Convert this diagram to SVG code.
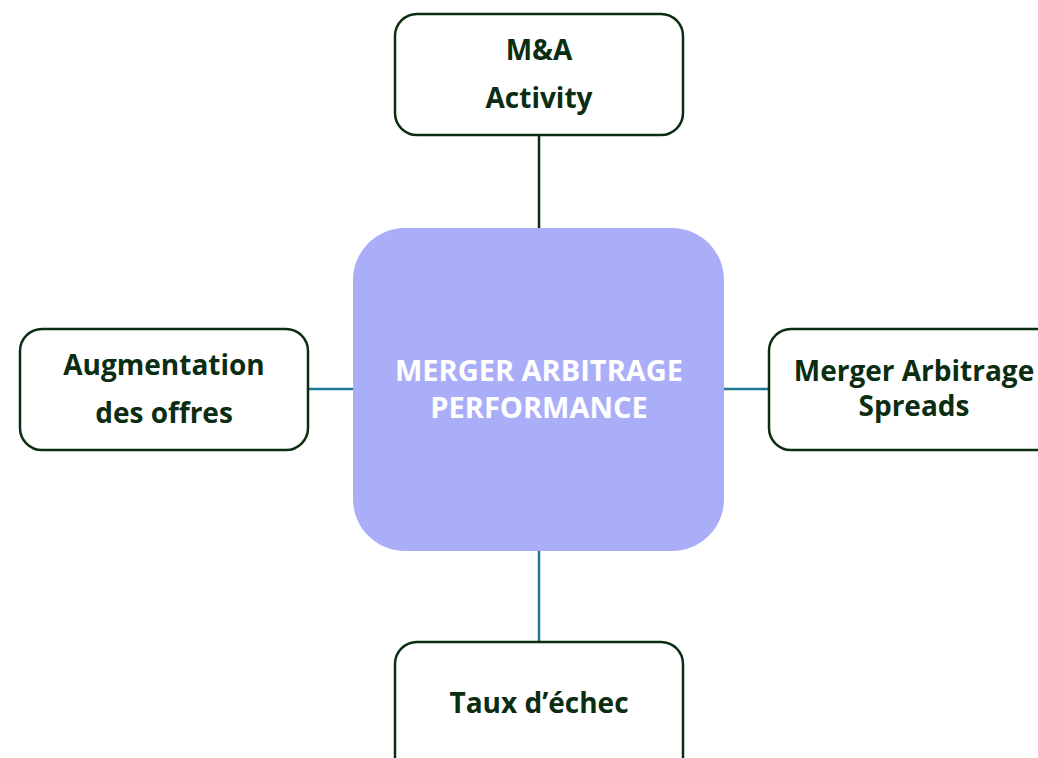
<svg xmlns="http://www.w3.org/2000/svg" width="1038" height="758" viewBox="0 0 1038 758">
<style>
.box{fill:#ffffff;stroke:#0b2d12;stroke-width:2.5}
.lbl{font-family:"Open Sans","Noto Sans",sans-serif;font-weight:700;font-size:28px;fill:#0b2d12;text-anchor:middle}
.clbl{font-family:"Open Sans","Noto Sans",sans-serif;font-weight:700;font-size:29px;fill:#ffffff;text-anchor:middle}
.c1{stroke:#0b2d12;stroke-width:2.5;fill:none}
.c2{stroke:#1f7892;stroke-width:2.5;fill:none}
</style>
<rect width="1038" height="758" fill="#ffffff"/>
<g id="connectors">
<line class="c1" x1="539" y1="135" x2="539" y2="228"/>
<line class="c2" x1="308" y1="389" x2="353" y2="389"/>
<line class="c2" x1="724" y1="389" x2="769" y2="389"/>
<line class="c2" x1="539" y1="551" x2="539" y2="642"/>
</g>
<g id="center">
<rect x="353" y="228" width="371" height="323" rx="52" fill="#aaaef9"/>
<text class="clbl" x="539" y="381">MERGER ARBITRAGE</text>
<text class="clbl" x="539" y="418">PERFORMANCE</text>
</g>
<g id="top">
<rect class="box" x="395" y="14" width="288" height="121" rx="22"/>
<text class="lbl" x="539" y="60">M&amp;A</text>
<text class="lbl" x="539" y="108">Activity</text>
</g>
<g id="left">
<rect class="box" x="20" y="329" width="288" height="121" rx="22"/>
<text class="lbl" x="164" y="375">Augmentation</text>
<text class="lbl" x="164" y="423">des offres</text>
</g>
<g id="right">
<rect class="box" x="769" y="329" width="300" height="121" rx="22"/>
<text class="lbl" x="914" y="381">Merger Arbitrage</text>
<text class="lbl" x="914" y="416">Spreads</text>
</g>
<g id="bottom">
<rect class="box" x="395" y="642" width="288" height="140" rx="22"/>
<text class="lbl" x="539" y="713">Taux d’échec</text>
</g>
</svg>
